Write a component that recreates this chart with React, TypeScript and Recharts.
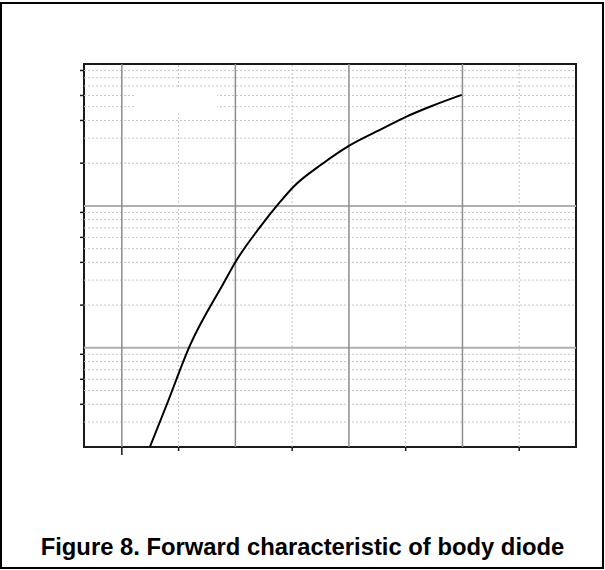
import React from "react";
import {
  LineChart,
  Line,
  XAxis,
  YAxis,
  ReferenceLine,
  ReferenceArea,
} from "recharts";

// forward voltage (V) vs source-drain current (A)
const vsd = [0.374, 0.4185, 0.48, 0.568, 0.603, 0.663, 0.718, 0.753, 0.832, 0.901, 0.991, 1.052, 1.114, 1.198];
const isd = [0.2, 0.397, 1.04, 2.83, 4.14, 6.97, 10.66, 13.6, 20.0, 26.6, 35.3, 42.6, 50.0, 60.6];

const xDomain = [0.2, 1.5];
const yDomain = [0.2, 100];
const xMajor = [0.3, 0.6, 0.9, 1.2, 1.5];
const xMinor = [0.45, 0.75, 1.05, 1.35];
const yDecades = [1, 10, 100];
const yMinor = [0.3, 0.4, 0.5, 0.6, 0.7, 0.8, 0.9, 2, 3, 4, 5, 6, 7, 8, 9, 20, 30, 40, 50, 60, 70, 80, 90];

const title = "Figure 8. Forward characteristic of body diode";

const data = vsd.map((v, i) => ({ v, i: isd[i] }));

const AXIS = "#1a1a1a";

function XTick({ x, y, payload }: any) {
  const major = xMajor.includes(payload.value);
  return <line x1={x} x2={x} y1={y} y2={y + (major ? 8 : 4)} stroke={AXIS} strokeWidth={1.5} />;
}

function YTick({ x, y, payload }: any) {
  const major = yDecades.includes(payload.value);
  return <line x1={x - (major ? 7 : 4)} x2={x} y1={y} y2={y} stroke={AXIS} strokeWidth={1.5} />;
}

export default function App() {
  return (
    <div
      style={{
        position: "absolute",
        left: 0,
        top: 0,
        width: 605,
        height: 570,
        background: "#fff",
      }}
    >
      <div
        style={{
          position: "absolute",
          left: 0,
          top: 2,
          width: 604,
          height: 567,
          border: "2px solid #000",
          boxSizing: "border-box",
        }}
      />
      <div style={{ position: "absolute", left: 0, top: 0 }}>
        <LineChart
          width={605}
          height={570}
          data={data}
          margin={{ top: 64, right: 29, bottom: 113, left: 74 }}
        >
          <XAxis
            type="number"
            dataKey="v"
            domain={xDomain}
            ticks={[...xMajor, ...xMinor]}
            allowDataOverflow
            height={10}
            tickSize={0}
            tickMargin={0}
            tick={<XTick />}
            axisLine={false}
            tickLine={false}
          />
          <YAxis
            type="number"
            dataKey="i"
            scale="log"
            domain={yDomain}
            ticks={[...yDecades, ...yMinor]}
            allowDataOverflow
            width={10}
            tickSize={0}
            tickMargin={0}
            tick={<YTick />}
            axisLine={false}
            tickLine={false}
          />
          {yMinor.map((t) => (
            <ReferenceLine key={"hy" + t} y={t} stroke="#c4c4c4" strokeDasharray="2 2" strokeWidth={1} />
          ))}
          {xMinor.map((t) => (
            <ReferenceLine key={"hx" + t} x={t} stroke="#c4c4c4" strokeDasharray="2 2" strokeWidth={1} />
          ))}
          {yDecades.slice(0, 2).map((t) => (
            <ReferenceLine key={"dy" + t} y={t} stroke="#b0b0b0" strokeWidth={2} />
          ))}
          {xMajor.slice(0, 4).map((t) => (
            <ReferenceLine key={"mx" + t} x={t} stroke="#8c8c8c" strokeWidth={1.5} />
          ))}
          <ReferenceArea
            x1={xDomain[0]}
            x2={xDomain[1]}
            y1={yDomain[0]}
            y2={yDomain[1]}
            fill="none"
            fillOpacity={0}
            stroke={AXIS}
            strokeWidth={2}
          />
          <Line
            type="monotone"
            dataKey="i"
            stroke="#000"
            strokeWidth={2}
            dot={false}
            isAnimationActive={false}
          />
        </LineChart>
      </div>
      {/* blank legend patch over the grid, as in the source figure */}
      <div
        style={{
          position: "absolute",
          left: 135,
          top: 88,
          width: 82,
          height: 26,
          background: "#fff",
        }}
      />
      <div
        style={{
          position: "absolute",
          left: 0,
          top: 534,
          width: 605,
          textAlign: "center",
          fontFamily: "'Liberation Sans', Arial, sans-serif",
          fontWeight: "bold",
          fontSize: 23.8,
          lineHeight: "26px",
          color: "#000",
        }}
      >
        {title}
      </div>
    </div>
  );
}
